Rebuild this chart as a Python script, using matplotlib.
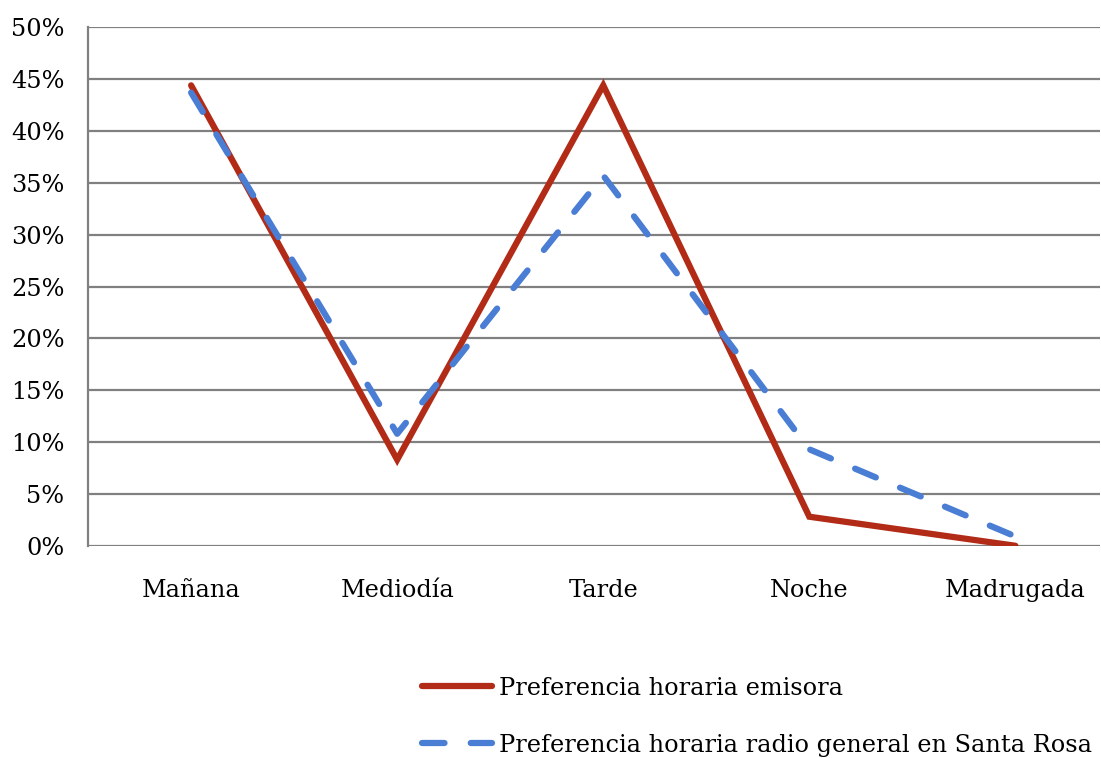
import matplotlib.pyplot as plt
from matplotlib.ticker import FuncFormatter

plt.rcParams['font.family'] = ['DejaVu Serif']

categories = ['Mañana', 'Mediodía', 'Tarde', 'Noche', 'Madrugada']
emisora = [44.4, 8.3, 44.4, 2.8, 0.0]
general = [43.7, 10.8, 35.7, 9.3, 0.9]

fig = plt.figure(figsize=(11.01, 7.58), dpi=100)
ax = fig.add_axes([0.080, 0.280, 0.919, 0.684])

x = range(len(categories))
ax.plot(x, emisora, color='#B22B17', lw=4.5, solid_capstyle='round',
        solid_joinstyle='miter', label='Preferencia horaria emisora')
ax.plot(x, general, color='#4A7DD4', lw=4.5, dashes=(3.6, 4.2),
        dash_capstyle='round', label='Preferencia horaria radio general en Santa Rosa')

ax.set_ylim(0, 50)
ax.set_xlim(-0.5, 4.41)
ax.set_yticks(range(0, 51, 5))
ax.yaxis.set_major_formatter(FuncFormatter(lambda v, p: f'{int(v)}%'))
ax.set_xticks(list(x))
ax.set_xticklabels(categories)
ax.grid(axis='y', color='#808080', lw=1.6)
ax.set_axisbelow(True)
for s in ['top', 'right', 'bottom']:
    ax.spines[s].set_visible(False)
ax.spines['left'].set_color('#808080')
ax.spines['left'].set_linewidth(1.6)
ax.spines['left'].set_bounds(0, 50)
ax.tick_params(axis='both', length=0, labelsize=17.3)
ax.tick_params(axis='y', pad=17)
ax.tick_params(axis='x', pad=24)

fig.legend(loc='upper left', bbox_to_anchor=(0.375, 0.120), frameon=False,
           fontsize=17.3, handlelength=2.9, handletextpad=0.3, labelspacing=1.42,
           borderaxespad=0)

fig.savefig('out.png', dpi=100)
